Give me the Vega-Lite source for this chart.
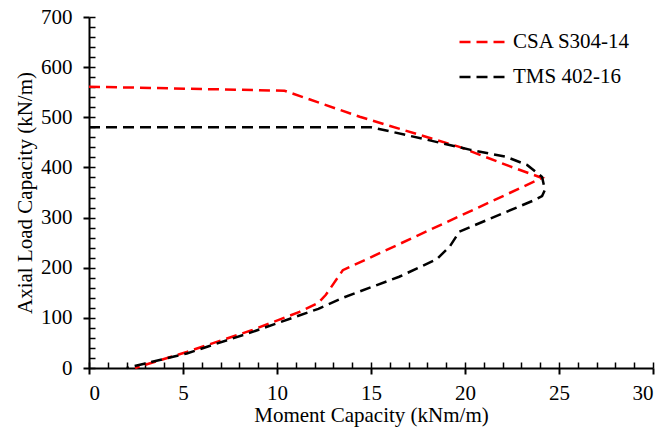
{
  "$schema": "https://vega.github.io/schema/vega-lite/v6.json",
  "width": 564,
  "height": 351,
  "autosize": "none",
  "padding": {"left": 89, "top": 17, "right": 13, "bottom": 64},
  "background": "white",
  "config": {
    "view": {"stroke": null},
    "font": "Liberation Serif",
    "axis": {"grid": false, "labelFont": "Liberation Serif", "titleFont": "Liberation Serif", "labelColor": "black", "titleColor": "black", "labelFontSize": 21, "titleFontSize": 21, "titleFontWeight": "normal", "domainColor": "black", "tickColor": "black"}
  },
  "data": {"values": [
    {"s": "CSA S304-14", "i": 0, "m": 0, "p": 561},
    {"s": "CSA S304-14", "i": 1, "m": 10.4, "p": 553},
    {"s": "CSA S304-14", "i": 2, "m": 14.4, "p": 501},
    {"s": "CSA S304-14", "i": 3, "m": 19.7, "p": 441},
    {"s": "CSA S304-14", "i": 4, "m": 22.4, "p": 402},
    {"s": "CSA S304-14", "i": 5, "m": 24.1, "p": 379},
    {"s": "CSA S304-14", "i": 6, "m": 13.5, "p": 195},
    {"s": "CSA S304-14", "i": 7, "m": 12.6, "p": 146},
    {"s": "CSA S304-14", "i": 8, "m": 12.2, "p": 130},
    {"s": "CSA S304-14", "i": 9, "m": 11.2, "p": 112},
    {"s": "CSA S304-14", "i": 10, "m": 8.7, "p": 76},
    {"s": "CSA S304-14", "i": 11, "m": 5.2, "p": 32},
    {"s": "CSA S304-14", "i": 12, "m": 2.45, "p": 0},
    {"s": "TMS 402-16", "i": 0, "m": 0, "p": 480},
    {"s": "TMS 402-16", "i": 1, "m": 15.0, "p": 480},
    {"s": "TMS 402-16", "i": 2, "m": 16.0, "p": 472},
    {"s": "TMS 402-16", "i": 3, "m": 18.0, "p": 455},
    {"s": "TMS 402-16", "i": 4, "m": 20.3, "p": 435},
    {"s": "TMS 402-16", "i": 5, "m": 22.2, "p": 421},
    {"s": "TMS 402-16", "i": 6, "m": 23.3, "p": 405},
    {"s": "TMS 402-16", "i": 7, "m": 24.1, "p": 381},
    {"s": "TMS 402-16", "i": 8, "m": 24.25, "p": 355},
    {"s": "TMS 402-16", "i": 9, "m": 24.1, "p": 343},
    {"s": "TMS 402-16", "i": 10, "m": 23.7, "p": 335},
    {"s": "TMS 402-16", "i": 11, "m": 19.7, "p": 272},
    {"s": "TMS 402-16", "i": 12, "m": 19.2, "p": 243},
    {"s": "TMS 402-16", "i": 13, "m": 18.5, "p": 217},
    {"s": "TMS 402-16", "i": 14, "m": 16.5, "p": 182},
    {"s": "TMS 402-16", "i": 15, "m": 13.5, "p": 140},
    {"s": "TMS 402-16", "i": 16, "m": 12.2, "p": 118},
    {"s": "TMS 402-16", "i": 17, "m": 8.7, "p": 72},
    {"s": "TMS 402-16", "i": 18, "m": 5.2, "p": 29},
    {"s": "TMS 402-16", "i": 19, "m": 2.0, "p": 0}
  ]},
  "resolve": {"axis": {"x": "independent", "y": "independent"}},
  "layer": [
    {
      "mark": {"type": "line", "strokeWidth": 1, "opacity": 0},
      "encoding": {
        "x": {"field": "m", "type": "quantitative", "scale": {"domain": [0, 30], "nice": false, "zero": false},
          "axis": {"orient": "bottom", "values": [0,1,2,3,4,5,6,7,8,9,10,11,12,13,14,15,16,17,18,19,20,21,22,23,24,25,26,27,28,29,30], "labels": false, "domain": false, "title": null, "tickSize": -6, "tickWidth": 1.5}},
        "y": {"field": "p", "type": "quantitative", "scale": {"domain": [0, 700], "nice": false, "zero": false},
          "axis": {"orient": "left", "values": [0,20,40,60,80,100,120,140,160,180,200,220,240,260,280,300,320,340,360,380,400,420,440,460,480,500,520,540,560,580,600,620,640,660,680,700], "labels": false, "domain": false, "title": null, "tickSize": -6, "tickWidth": 1.5}},
        "detail": {"field": "s"},
        "order": {"field": "i", "type": "quantitative"}
      }
    },
    {
      "mark": {"type": "line", "strokeWidth": 2.5, "strokeDash": [11, 6]},
      "encoding": {
        "x": {"field": "m", "type": "quantitative", "scale": {"domain": [0, 30], "nice": false, "zero": false},
          "axis": {"orient": "bottom", "values": [0, 5, 10, 15, 20, 25, 30], "tickSize": 6, "tickWidth": 2, "domainWidth": 2, "labelPadding": 8, "title": "Moment Capacity (kNm/m)", "titlePadding": 1}},
        "y": {"field": "p", "type": "quantitative", "scale": {"domain": [0, 700], "nice": false, "zero": false},
          "axis": {"orient": "left", "values": [0, 100, 200, 300, 400, 500, 600, 700], "tickSize": 6, "tickWidth": 2, "domainWidth": 2, "labelPadding": 11, "title": "Axial Load Capacity (kN/m)", "titlePadding": 5}},
        "color": {"field": "s", "type": "nominal", "scale": {"domain": ["CSA S304-14", "TMS 402-16"], "range": ["#ff0000", "#000000"]},
          "legend": {"title": null, "orient": "none", "legendX": 369, "legendY": 0, "padding": 0, "labelFont": "Liberation Serif", "labelFontSize": 21, "labelColor": "black", "symbolType": "stroke", "symbolSize": 2209, "symbolStrokeWidth": 2.5, "symbolDash": [11, 6], "labelOffset": 5, "rowPadding": -10}},
        "order": {"field": "i", "type": "quantitative"}
      }
    }
  ]
}
